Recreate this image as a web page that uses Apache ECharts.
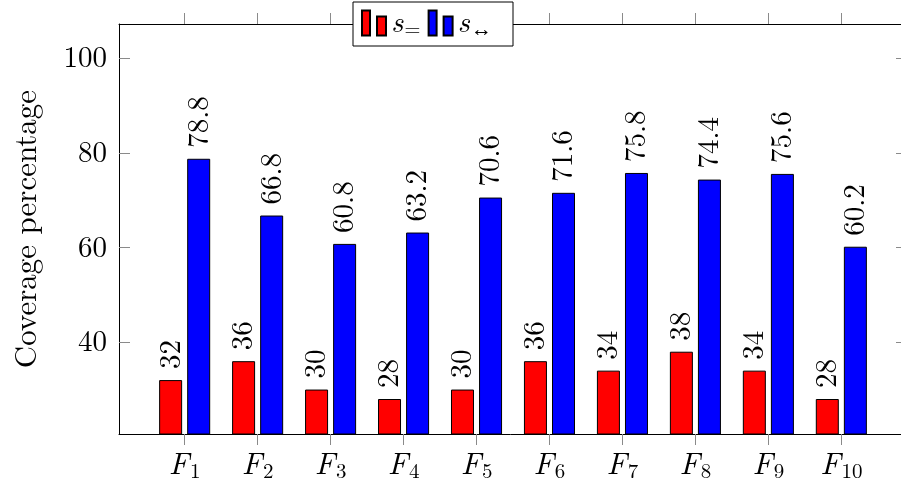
<!DOCTYPE html>
<html>
<head>
<meta charset="utf-8">
<script src="https://cdn.jsdelivr.net/npm/echarts@6/dist/echarts.min.js"></script>
<style>
  html, body { margin: 0; padding: 0; background: #fff; }
  #chart { width: 901px; height: 489px; }
</style>
</head>
<body>
<div id="chart"></div>
<script>
// Coverage per feature set, two strategies
const categories = ['F1', 'F2', 'F3', 'F4', 'F5', 'F6', 'F7', 'F8', 'F9', 'F10'];
const seriesNames = ['s=', 's↔'];
const coverageEq = [32, 36, 30, 28, 30, 36, 34, 38, 34, 28];
const coverageArrow = [78.8, 66.8, 60.8, 63.2, 70.6, 71.6, 75.8, 74.4, 75.6, 60.2];
const yTickValues = [40, 60, 80, 100];

const FONT = 'Latin Modern Roman';
const positions = categories.map((c, i) => i + 1);

const chart = echarts.init(document.getElementById('chart'), null, { renderer: 'canvas' });

const tickStyle = { color: '#8a8a8a', width: 1 };
const axisLineStyle = { color: '#000', width: 1 };

function barSeries(name, values, color) {
  return {
    name: name,
    type: 'bar',
    xAxisIndex: 0,
    yAxisIndex: 0,
    barWidth: 23,
    barGap: '22%',
    clip: true,
    data: values.map((v, i) => [positions[i], v]),
    itemStyle: { color: color, borderColor: '#000', borderWidth: 1 },
    label: {
      show: true,
      position: 'top',
      distance: 11,
      rotate: 90,
      align: 'left',
      verticalAlign: 'middle',
      fontFamily: FONT,
      fontSize: 29,
      color: '#000',
      formatter: p => '{n|' + p.value[1] + '}',
      rich: { n: { fontFamily: FONT, fontSize: 29, color: '#000' } }
    }
  };
}

const option = {
  animation: false,
  backgroundColor: '#fff',
  textStyle: { fontFamily: FONT },
  grid: { left: 119, right: -6, top: 24, bottom: 55, outerBoundsMode: 'none', containLabel: false },
  graphic: [{
    type: 'rect',
    z: 3,
    shape: { x: 353, y: 2, width: 160, height: 44 },
    style: { fill: '#fff', stroke: '#000', lineWidth: 1 }
  }],
  legend: {
    z: 5,
    left: 361,
    top: 8,
    padding: 0,
    itemGap: 7,
    itemWidth: 24,
    itemHeight: 25,
    icon: 'path://M0,0h8v25h-8z M15,6h9v19h-9z',
    data: seriesNames,
    formatter: name => '{s|' + name.charAt(0) + '}{sub|' + name.slice(1) + '}',
    textStyle: {
      color: '#000',
      fontFamily: FONT,
      rich: {
        s: { fontFamily: FONT, fontStyle: 'italic', fontSize: 30, color: '#000' },
        sub: { fontFamily: FONT, fontSize: 21, color: '#000', padding: [13, 0, 0, 1] }
      }
    }
  },
  xAxis: [{
    type: 'value',
    position: 'bottom',
    min: 0.1,
    max: 10.9,
    splitLine: { show: false },
    axisLine: { show: true, onZero: false, lineStyle: axisLineStyle },
    axisTick: { show: true, inside: false, length: 11, lineStyle: tickStyle, customValues: positions },
    axisLabel: {
      show: true,
      margin: 14,
      customValues: positions,
      fontFamily: FONT,
      formatter: v => {
        const c = categories[Math.round(v) - 1] || '';
        return '{f|' + c.charAt(0) + '}{s|' + c.slice(1) + '}';
      },
      rich: {
        f: { fontFamily: FONT, fontStyle: 'italic', fontSize: 31, color: '#000' },
        s: { fontFamily: FONT, fontSize: 21, color: '#000', padding: [13, 0, 0, 1] }
      }
    }
  }, {
    type: 'value',
    position: 'top',
    min: 0.1,
    max: 10.9,
    splitLine: { show: false },
    axisLine: { show: true, onZero: false, lineStyle: axisLineStyle },
    axisTick: { show: true, inside: false, length: 11, lineStyle: tickStyle, customValues: positions },
    axisLabel: { show: false }
  }],
  yAxis: [{
    type: 'value',
    position: 'left',
    min: 20.6,
    max: 107.3,
    splitLine: { show: false },
    axisLine: { show: true, onZero: false, lineStyle: axisLineStyle },
    axisTick: { show: true, inside: true, length: 11, lineStyle: tickStyle, customValues: yTickValues },
    axisLabel: {
      show: true,
      margin: 12,
      customValues: yTickValues,
      fontFamily: FONT,
      fontSize: 29,
      color: '#000',
      formatter: v => '{n|' + v + '}',
      rich: { n: { fontFamily: FONT, fontSize: 29, color: '#000' } }
    },
    name: 'Coverage percentage',
    nameLocation: 'middle',
    nameGap: 77,
    nameTextStyle: { fontFamily: FONT, fontSize: 31, color: '#000' }
  }, {
    type: 'value',
    position: 'right',
    min: 20.6,
    max: 107.3,
    splitLine: { show: false },
    axisLine: { show: true, onZero: false, lineStyle: axisLineStyle },
    axisTick: { show: true, inside: true, length: 11, lineStyle: tickStyle, customValues: yTickValues },
    axisLabel: { show: false }
  }],
  series: [
    barSeries(seriesNames[0], coverageEq, '#ff0000'),
    barSeries(seriesNames[1], coverageArrow, '#0000ff')
  ]
};

chart.setOption(option);
</script>
</body>
</html>
